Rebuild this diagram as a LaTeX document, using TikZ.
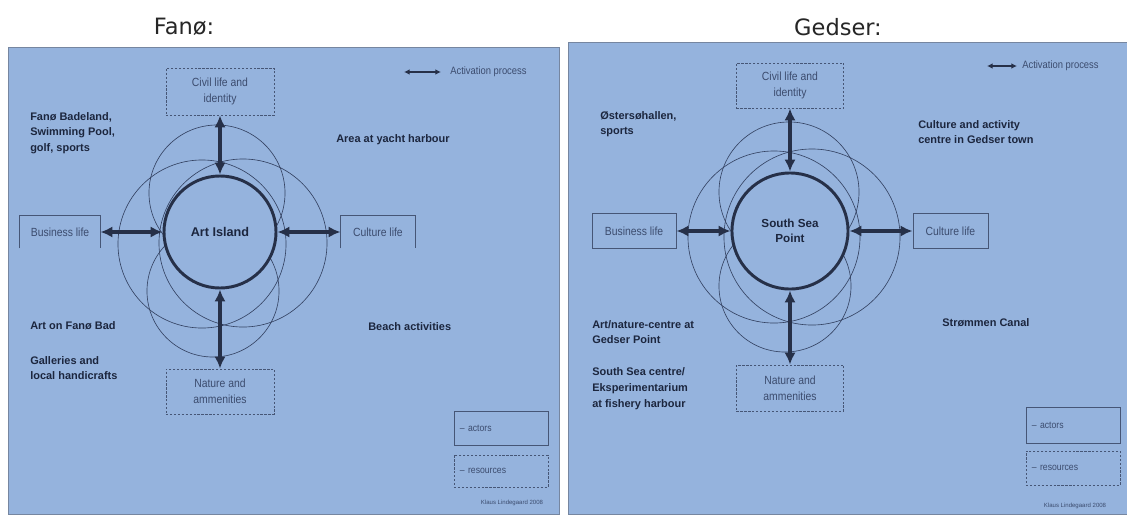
\documentclass[tikz,border=0pt]{standalone}
\usepackage{fontspec}
\setmainfont{Liberation Sans}
\newfontfamily\narrowsans[FakeStretch=0.88]{Liberation Sans}
\newfontfamily\titlesans{DejaVu Sans}
\usetikzlibrary{positioning,arrows.meta}

\definecolor{panelblue}{RGB}{149,179,221}
\definecolor{panelline}{RGB}{118,134,160}
\definecolor{navy}{RGB}{38,48,72}
\definecolor{petalline}{RGB}{52,66,98}
\definecolor{boxline}{RGB}{70,86,118}
\definecolor{labeltext}{RGB}{60,76,110}
\definecolor{notetext}{RGB}{28,38,62}

\tikzset{
  panel/.style={draw=panelline, fill=panelblue, line width=0.7pt},
  heading/.style={font=\titlesans\fontsize{16}{18}\selectfont, text=black!85},
  hub/.style={circle, draw=navy, fill=panelblue, line width=2.1pt, inner sep=0pt, align=center, text=notetext},
  actor/.style={draw=boxline, line width=0.6pt, inner sep=0pt, align=center, text=labeltext, font=\narrowsans\fontsize{8.4}{11.4}\selectfont},
  resource/.style={actor, dash pattern=on 1.6pt off 1.2pt},
  openbox/.style={actor, draw=none},
  act/.style={{Latex[length=8.5pt,width=8pt]}-{Latex[length=8.5pt,width=8pt]}, line width=2.4pt, draw=navy},
  actkey/.style={{Latex[length=4pt,width=4pt]}-{Latex[length=4pt,width=4pt]}, line width=1.2pt, draw=navy},
  petal/.style={draw=petalline, line width=0.45pt},
  note/.style={anchor=west, inner sep=0pt, align=left, text=notetext, font=\bfseries\fontsize{7.8}{10.8}\selectfont},
  keytext/.style={anchor=west, inner sep=0pt, text=labeltext, font=\narrowsans\fontsize{7.6}{8}\selectfont},
  keybox/.style={draw=boxline, line width=0.6pt, minimum width=2.35cm, text width=2.05cm, align=left, text=labeltext, font=\narrowsans\fontsize{7}{8}\selectfont},
  signature/.style={text=labeltext, font=\fontsize{4.3}{5}\selectfont, inner sep=0pt}
}

\begin{document}
\begin{tikzpicture}[x=0.025cm, y=-0.025cm]
  \useasboundingbox (0,0) rectangle (1127,515);
  \fill[white] (0,0) rectangle (1127,515);

  % Fano panel
  \draw[panel] (8,47) rectangle (559,514);
  \node[heading] (ftitle) at (184,27) {Fanø:};

  \draw[petal] (217,193) circle[radius=1.7cm];
  \draw[petal] (213,291) circle[radius=1.65cm];
  \draw[petal] (202,244) circle[radius=2.1cm];
  \draw[petal] (243,243) circle[radius=2.1cm];

  \node[hub, minimum size=2.8cm, font=\bfseries\fontsize{9}{10.5}\selectfont] (fhub) at (220,232) {Art Island};
  \node[resource, minimum width=2.7cm, minimum height=1.175cm] (fciv) [above=1.475cm of fhub] {Civil life and\\identity};
  \node[resource, minimum width=2.7cm, minimum height=1.125cm] (fnat) [below=1.975cm of fhub] {Nature and\\ammenities};
  \node[openbox, minimum width=2cm, minimum height=0.8cm] (fbus) [left=1.55cm of fhub] {Business life};
  \node[openbox, minimum width=1.85cm, minimum height=0.8cm] (fcul) [right=1.575cm of fhub] {Culture life};
  \draw[boxline, line width=0.6pt] (fbus.south west) -- (fbus.north west) -- (fbus.north east) -- (fbus.south east);
  \draw[boxline, line width=0.6pt] (fcul.south west) -- (fcul.north west) -- (fcul.north east) -- (fcul.south east);

  \draw[act] (fciv) -- (fhub);
  \draw[act] (fnat) -- (fhub);
  \draw[act] (fbus) -- (fhub);
  \draw[act] (fcul) -- (fhub);

  \coordinate (fkeya) at (404,72);
  \coordinate (fkeyb) at (441,72);
  \draw[actkey] (fkeya) -- (fkeyb);
  \node[keytext] (fkey) at (450,72) {Activation process};

  \node[note] (fbad) at (30,133) {Fanø Badeland,\\Swimming Pool,\\golf, sports};
  \node[note] (fyacht) at (336,140) {Area at yacht harbour};
  \node[note] (fart) at (30,326) {Art on Fanø Bad};
  \node[note] (fgal) at (30,368) {Galleries and\\local handicrafts};
  \node[note] (fbeach) at (368,327) {Beach activities};

  \node[keybox, minimum height=0.85cm] (factors) at (501,428) {– actors};
  \node[keybox, minimum height=0.8cm, dash pattern=on 1.6pt off 1.2pt] (fres) at (501,471) {– resources};
  \node[signature] (fsig) at (512,503) {Klaus Lindegaard 2008};

  % Gedser panel
  \draw[panel] (568,42) rectangle (1132,514);
  \node[heading] (gtitle) at (838,27) {Gedser:};

  \draw[petal] (789,192) circle[radius=1.75cm];
  \draw[petal] (785,286) circle[radius=1.65cm];
  \draw[petal] (774,237) circle[radius=2.15cm];
  \draw[petal] (812,237) circle[radius=2.2cm];

  \node[hub, minimum size=2.9cm, font=\bfseries\fontsize{8.3}{10.5}\selectfont] (ghub) at (790,231) {South Sea\\Point};
  \node[resource, minimum width=2.675cm, minimum height=1.125cm] (gciv) [above=1.575cm of ghub] {Civil life and\\identity};
  \node[resource, minimum width=2.675cm, minimum height=1.15cm] (gnat) [below=1.85cm of ghub] {Nature and\\ammenities};
  \node[actor, minimum width=2.1cm, minimum height=0.875cm] (gbus) [left=1.35cm of ghub] {Business life};
  \node[actor, minimum width=1.875cm, minimum height=0.875cm] (gcul) [right=1.575cm of ghub] {Culture life};

  \draw[act] (gciv) -- (ghub);
  \draw[act] (gnat) -- (ghub);
  \draw[act] (gbus) -- (ghub);
  \draw[act] (gcul) -- (ghub);

  \coordinate (gkeya) at (987,66);
  \coordinate (gkeyb) at (1017,66);
  \draw[actkey] (gkeya) -- (gkeyb);
  \node[keytext] (gkey) at (1022,66) {Activation process};

  \node[note] (ghall) at (600,124) {Østersøhallen,\\sports};
  \node[note] (gtown) at (918,132) {Culture and activity\\centre in Gedser town};
  \node[note] (gpoint) at (592,332) {Art/nature-centre at\\Gedser Point};
  \node[note, font=\bfseries\fontsize{7.8}{11.4}\selectfont] (gfish) at (592,389) {South Sea centre/\\Eksperimentarium\\at fishery harbour};
  \node[note] (gcanal) at (942,323) {Strømmen Canal};

  \node[keybox, minimum height=0.9cm] (gactors) at (1073,425) {– actors};
  \node[keybox, minimum height=0.85cm, dash pattern=on 1.6pt off 1.2pt] (gres) at (1073,468) {– resources};
  \node[signature] (gsig) at (1075,506) {Klaus Lindegaard 2008};
\end{tikzpicture}
\end{document}
